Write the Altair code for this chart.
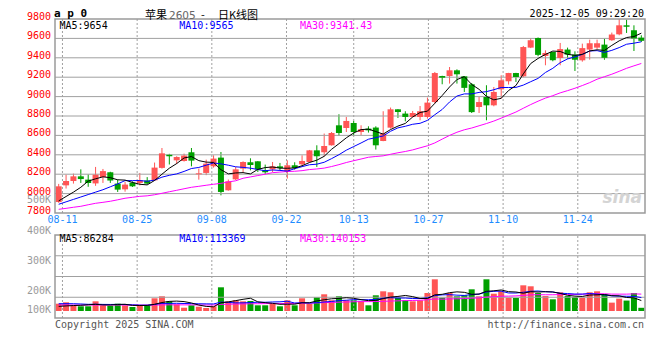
import altair as alt
import pandas as pd

# ---------------- data ----------------
opens = [7913, 8085, 8130, 8178, 8144, 8105, 8171, 8220, 8103, 8044,
         8113, 8110, 8135, 8137, 8265, 8400, 8343, 8336, 8426, 8199,
         8213, 8281, 8371, 8034, 8147, 8258, 8323, 8333, 8240, 8250,
         8281, 8223, 8292, 8302, 8326, 8446, 8426, 8498, 8704, 8676,
         8728, 8635, 8670, 8681, 8542, 8680, 8869, 8825, 8790, 8790,
         8790, 8944, 9212, 9212, 9271, 9209, 9127, 8893, 8996, 8910,
         9075, 9158, 9243, 9209, 9505, 9604, 9419, 9460, 9398, 9485,
         9433, 9374, 9485, 9505, 9536, 9581, 9642, 9735, 9684, 9608]
highs = [8100, 8196, 8206, 8250, 8198, 8275, 8254, 8225, 8144, 8120,
         8127, 8213, 8170, 8320, 8470, 8410, 8385, 8412, 8470, 8258,
         8350, 8395, 8429, 8145, 8275, 8333, 8364, 8335, 8299, 8326,
         8316, 8343, 8323, 8395, 8450, 8498, 8619, 8635, 8818, 8790,
         8749, 8704, 8694, 8694, 8849, 8887, 8870, 8849, 8852, 8903,
         8990, 9254, 9215, 9305, 9281, 9210, 9140, 8996, 9117, 9099,
         9220, 9245, 9245, 9522, 9604, 9610, 9477, 9462, 9553, 9505,
         9467, 9546, 9587, 9587, 9597, 9660, 9800, 9794, 9735, 9632]
lows = [7905, 8052, 8103, 8110, 8070, 8080, 8110, 8110, 8017, 8020,
        8068, 8085, 8095, 8130, 8258, 8300, 8305, 8330, 8281, 8144,
        8190, 8268, 7982, 8030, 8140, 8213, 8240, 8223, 8199, 8223,
        8240, 8155, 8247, 8292, 8320, 8275, 8385, 8495, 8594, 8635,
        8601, 8601, 8629, 8454, 8540, 8670, 8780, 8745, 8785, 8756,
        8773, 8928, 9127, 9134, 9134, 9048, 8831, 8831, 8756, 8900,
        8980, 9124, 9151, 9200, 9500, 9416, 9323, 9364, 9323, 9390,
        9264, 9360, 9381, 9490, 9380, 9575, 9632, 9656, 9470, 9563]
closes = [8075, 8130, 8178, 8150, 8109, 8195, 8232, 8135, 8041, 8093,
          8075, 8137, 8103, 8268, 8415, 8385, 8377, 8392, 8340, 8205,
          8309, 8361, 8017, 8127, 8250, 8326, 8295, 8250, 8220, 8281,
          8264, 8292, 8264, 8336, 8446, 8385, 8491, 8625, 8625, 8749,
          8635, 8663, 8652, 8498, 8619, 8869, 8841, 8790, 8831, 8849,
          8938, 9243, 9195, 9271, 9230, 9090, 8840, 8944, 8910, 9048,
          9168, 9243, 9202, 9511, 9581, 9430, 9450, 9375, 9490, 9433,
          9380, 9500, 9550, 9550, 9400, 9640, 9735, 9720, 9600, 9575]
volumes = [60200, 71800, 47000, 38800, 38800, 80000, 47000, 43700, 60200, 47000,
           33000, 43700, 47000, 104800, 121300, 80000, 55300, 27200, 47000, 35500,
           24800, 38800, 195500, 80000, 88300, 80000, 82500, 47000, 47000, 60200,
           38800, 88300, 47000, 104800, 60200, 113000, 137800, 88300, 121300, 88300,
           88300, 82500, 47000, 129500, 162500, 154300, 107300, 88300, 80000, 88300,
           148500, 261500, 109700, 148500, 121300, 129500, 179000, 121300, 261500, 142700,
           162500, 109700, 107300, 212000, 203800, 148500, 123800, 96500, 154300, 123800,
           115500, 109700, 154300, 162500, 137800, 69000, 102000, 86000, 148000, 26500]

# moving-average values before a full window exists
ma5_head = [7925, 7970, 8015, 8065]
ma10_head = [7890, 7915, 7940, 7965, 7990, 8015, 8040, 8070, 8100]
ma30_head = [7838, 7848, 7859, 7869, 7885, 7900, 7910, 7921, 7936, 7952,
             7962, 7972, 7977, 7988, 8003, 8019, 8034, 8050, 8065, 8075,
             8086, 8096, 8106, 8120, 8132, 8158, 8172, 8186, 8200]
vma5_head = [38000, 42000, 45000, 47000]
vma10_head = [60000, 60500, 60000, 58000, 55000, 56000, 54500, 54000, 54500]
vma30_head = [49500, 49500, 49000, 49000, 49000, 49500, 49500, 49500, 49500, 49500,
              49000, 48500, 48500, 49500, 50500, 51000, 51000, 50500, 50500, 50000,
              49500, 49500, 54500, 56000, 57500, 58500, 59500, 60000, 61000]

tick_idx = [1, 11, 21, 31, 40, 50, 60, 70]
tick_labels = ["08-11", "08-25", "09-08", "09-22", "10-13", "10-27", "11-10", "11-24"]
price_ticks = [7800, 8000, 8200, 8400, 8600, 8800, 9000, 9200, 9400, 9600, 9800]
vol_label_values = [500000, 400000, 300000, 200000, 100000]
ma_texts = ["MA5:9654", "MA10:9565", "MA30:9341.43"]
vma_texts = ["MA5:86284", "MA10:113369", "MA30:140153"]
title_parts = ["苹果", "2605", "-", "日K线图"]
code_text = "a p 0"
time_text = "2025-12-05 09:29:20"

# ---------------- helpers ----------------
def moving(vals, n, head):
    out = list(head)
    for i in range(len(head), len(vals)):
        out.append(sum(vals[i - n + 1:i + 1]) / n)
    return out

N = len(closes)
df = pd.DataFrame({
    "k": list(range(N)), "open": opens, "high": highs, "low": lows,
    "close": closes, "vol": volumes,
})
df["xc"] = df["k"] + 0.5
df["dir"] = ["up" if c >= o else "down" for o, c in zip(opens, closes)]
df["bot"] = [min(o, c) for o, c in zip(opens, closes)]
df["top"] = [max(max(o, c), min(o, c) + 10) for o, c in zip(opens, closes)]
df["zero"] = 0
df["ma5"] = moving(closes, 5, ma5_head)
df["ma10"] = moving(closes, 10, ma10_head)
df["ma30"] = moving(closes, 30, ma30_head)
df["vma5"] = moving(volumes, 5, vma5_head)
df["vma10"] = moving(volumes, 10, vma10_head)
df["vma30"] = moving(volumes, 30, vma30_head)

grid_df = pd.DataFrame({"gx": [i * 80 / 79 for i in tick_idx], "label": tick_labels})

MONO = "DejaVu Sans Mono"
CJK = "Noto Sans CJK SC"
RED = "#FF5555"
GREEN = "#00A000"
GRID = "#a0a0a0"
FRAME = "#9a9a9a"

P_LO, P_HI = 7800, 9800
V_LO, V_HI = -57750, 627000
vq = [V_LO + (V_HI - V_LO) * q for q in (0.25, 0.5, 0.75)]

XS = alt.Scale(domain=[0, 80], nice=False, zero=False)
PS = alt.Scale(domain=[P_LO, P_HI], range=[194, 0], nice=False, zero=False)
VS = alt.Scale(domain=[V_LO, V_HI], range=[299, 216], nice=False, zero=False)
LS = alt.Scale(domain=[136000, 500000], range=[291.3, 181.3], nice=False, zero=False, clamp=True)

color = alt.Color("dir:N", scale=alt.Scale(domain=["up", "down"], range=[RED, GREEN]), legend=None)
xenc = alt.X("xc:Q", scale=XS, axis=None)
hidden_axis = alt.Axis(title=None, labels=False, ticks=False, domain=False, grid=False)


def txt(text, x, y, color_, align, dx=0, dy=0, size=10, font=MONO, weight="normal", style="normal",
        baseline="middle"):
    return alt.Chart(pd.DataFrame({"t": [text]})).mark_text(
        align=align, baseline=baseline, dx=dx, dy=dy, font=font, fontSize=size,
        fontWeight=weight, fontStyle=style, color=color_
    ).encode(x=x, y=y, text="t:N")


def hlines(values, scale):
    # dotted horizontal grid: zero-height outlined rects spanning the panel width
    d = pd.DataFrame({"lv": values, "a": 0, "b": 80})
    return alt.Chart(d).mark_rect(fill=None, fillOpacity=0, stroke=GRID, strokeDash=[2, 2],
                                  strokeWidth=1).encode(
        x=alt.X("a:Q", scale=XS, axis=None), x2="b:Q",
        y=alt.Y("lv:Q", scale=scale, axis=None), y2="lv:Q")


base = alt.Chart(df)

# ---------------- price panel ----------------
ph_df = pd.DataFrame({"p": price_ticks, "x0": 0, "t": [str(p) for p in price_ticks]})
p_hgrid = hlines(price_ticks[1:-1], PS)
p_vgrid = alt.Chart(grid_df).mark_rule(color=GRID, strokeDash=[2, 2], strokeWidth=1).encode(
    x=alt.X("gx:Q", scale=XS, axis=None), y=alt.datum(P_LO), y2=alt.datum(P_HI))
p_labels = alt.Chart(ph_df).mark_text(
    align="right", baseline="middle", dx=-4, dy=-2, font=MONO, fontSize=10, color="#FF0000").encode(
    x=alt.X("x0:Q", scale=XS, axis=None), y=alt.Y("p:Q", scale=PS, axis=None), text="t:N")
p_frame = alt.Chart(pd.DataFrame({"x0": [0], "x1": [80]})).mark_rect(
    fill=None, fillOpacity=0, stroke=FRAME, strokeWidth=1.5).encode(
    x=alt.X("x0:Q", scale=XS, axis=None), x2="x1:Q", y=alt.datum(P_LO), y2=alt.datum(P_HI))
wick = base.mark_rule(strokeWidth=1).encode(
    x=xenc, y=alt.Y("low:Q", scale=PS, axis=hidden_axis), y2="high:Q", color=color)
body = base.mark_bar(size=6).encode(
    x=xenc, y=alt.Y("bot:Q", scale=PS, axis=None), y2="top:Q", color=color)
ma5 = base.mark_line(color="black", strokeWidth=1).encode(x=xenc, y=alt.Y("ma5:Q", scale=PS, axis=None))
ma10 = base.mark_line(color="#0000FF", strokeWidth=1).encode(x=xenc, y=alt.Y("ma10:Q", scale=PS, axis=None))
ma30 = base.mark_line(color="#FF00FF", strokeWidth=1).encode(x=xenc, y=alt.Y("ma30:Q", scale=PS, axis=None))
dates = alt.Chart(grid_df).mark_text(font=MONO, fontSize=10, color="#1E8CFF", dy=7, baseline="middle").encode(
    x=alt.X("gx:Q", scale=XS, axis=None), y=alt.datum(P_LO), text="label:N")

p_texts = [
    txt(ma_texts[0], alt.datum(0), alt.datum(P_HI), "black", "left", dx=4.5, dy=6.5),
    txt(ma_texts[1], alt.datum(0), alt.datum(P_HI), "#0000FF", "left", dx=124.3, dy=6.5),
    txt(ma_texts[2], alt.datum(0), alt.datum(P_HI), "#FF00FF", "left", dx=245, dy=6.5),
    txt(code_text, alt.datum(0), alt.datum(P_HI), "black", "left", dx=-1, dy=-5, size=11, weight="bold"),
    txt(title_parts[0], alt.datum(0), alt.datum(P_HI), "black", "left", dx=90, dy=-3.5, size=11, font=CJK),
    txt(title_parts[1], alt.datum(0), alt.datum(P_HI), "#666666", "left", dx=114, dy=-3.5, size=10.5,
        font="DejaVu Sans"),
    txt(title_parts[2], alt.datum(0), alt.datum(P_HI), "black", "left", dx=146, dy=-3.5, size=11, font=CJK),
    txt(title_parts[3], alt.datum(0), alt.datum(P_HI), "black", "left", dx=163, dy=-3.5, size=11, font=CJK),
    txt(time_text, alt.datum(80), alt.datum(P_HI), "black", "right", dx=-1, dy=-5, size=10),
    txt("sina", alt.datum(80), alt.datum(P_LO), "#d4d4d4", "right", dx=-3, dy=-6, size=17,
        font="DejaVu Sans", weight="bold", style="italic", baseline="bottom"),
]

price_layer = alt.layer(wick, p_vgrid, p_hgrid, body, ma30, ma10, ma5, p_frame, p_labels, dates, *p_texts)

# ---------------- volume panel ----------------
v_hgrid = hlines(vq, VS)
v_vgrid = alt.Chart(grid_df).mark_rule(color=GRID, strokeDash=[2, 2], strokeWidth=1).encode(
    x=alt.X("gx:Q", scale=XS, axis=None), y=alt.datum(V_LO), y2=alt.datum(V_HI))
v_frame = alt.Chart(pd.DataFrame({"x0": [0], "x1": [80]})).mark_rect(
    fill=None, fillOpacity=0, stroke=FRAME, strokeWidth=1.5).encode(
    x=alt.X("x0:Q", scale=XS, axis=None), x2="x1:Q", y=alt.datum(V_LO), y2=alt.datum(V_HI))
vbar = base.mark_bar(size=6).encode(
    x=xenc, y=alt.Y("vol:Q", scale=VS, axis=alt.Axis(title=None, labels=False, ticks=False, domain=False,
                                                      grid=False, orient="right")),
    y2="zero:Q", color=color)
vma5 = base.mark_line(color="black", strokeWidth=1).encode(x=xenc, y=alt.Y("vma5:Q", scale=VS, axis=None))
vma10 = base.mark_line(color="#0000FF", strokeWidth=1).encode(x=xenc, y=alt.Y("vma10:Q", scale=VS, axis=None))
vma30 = base.mark_line(color="#FF00FF", strokeWidth=1).encode(x=xenc, y=alt.Y("vma30:Q", scale=VS, axis=None))
v_texts = [
    txt(vma_texts[0], alt.datum(0), alt.datum(V_HI), "black", "left", dx=4.5, dy=4),
    txt(vma_texts[1], alt.datum(0), alt.datum(V_HI), "#0000FF", "left", dx=124.3, dy=4),
    txt(vma_texts[2], alt.datum(0), alt.datum(V_HI), "#FF00FF", "left", dx=245, dy=4),
    txt("Copyright 2025 SINA.COM", alt.datum(0), alt.datum(V_LO), "#555555", "left", dx=0, dy=6.5),
    txt("http://finance.sina.com.cn", alt.datum(80), alt.datum(V_LO), "#555555", "right", dx=-1, dy=6.5),
]
vol_layer = alt.layer(vbar, v_vgrid, v_hgrid, vma30, vma10, vma5, v_frame, *v_texts)

# ---------------- volume axis labels (Sina's own label scale) ----------------
lab_df = pd.DataFrame({"v": vol_label_values, "t": [f"{v // 1000}K" for v in vol_label_values]})
lab_layer = alt.Chart(lab_df).mark_text(align="right", baseline="middle", dx=-4, font=MONO,
                                        fontSize=10, color="#9a9a9a").encode(
    x=alt.datum(0), y=alt.Y("v:Q", scale=LS, axis=None), text="t:N")

chart = alt.layer(price_layer, vol_layer, lab_layer).resolve_scale(y="independent").properties(
    width=600, height=299,
    padding={"left": 42, "top": 11, "right": 2, "bottom": 20},
    autosize=alt.AutoSizeParams(type="none"),
    background="white",
).configure_view(stroke=None)

chart.save("out.html", embed_options={"renderer": "svg", "actions": False})
